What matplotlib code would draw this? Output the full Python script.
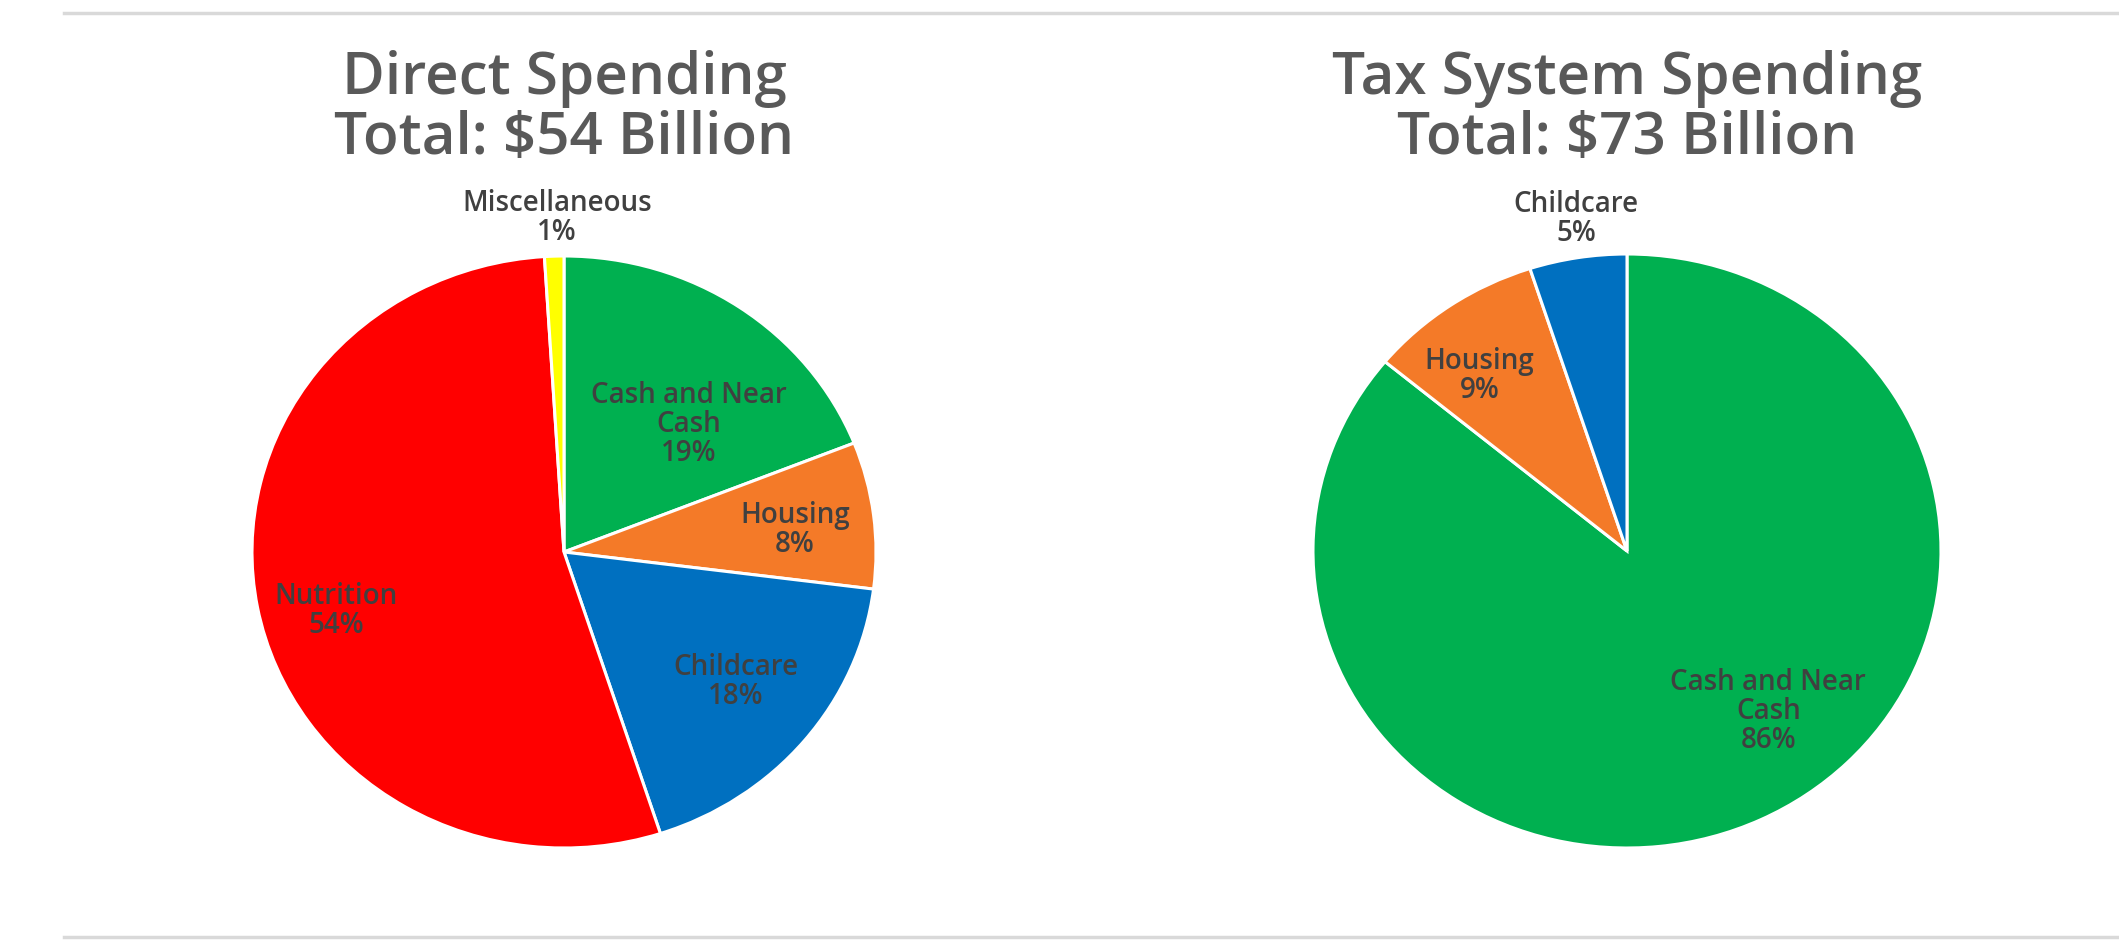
import matplotlib
matplotlib.use("Agg")
import matplotlib.pyplot as plt
from matplotlib.lines import Line2D

plt.rcParams['font.family'] = ['Open Sans', 'DejaVu Sans']

# Direct spending shares (percent), clockwise from 12 o'clock
direct_labels = ["Cash and Near\nCash", "Housing", "Childcare", "Nutrition", "Miscellaneous"]
direct_values = [19, 8, 18, 54, 1]
direct_colors = ["#00B050", "#F47A28", "#0070C0", "#FF0000", "#FFFF00"]
direct_total = 54

# Tax system spending shares (percent), clockwise from 12 o'clock
tax_labels = ["Cash and Near\nCash", "Housing", "Childcare"]
tax_values = [86, 9, 5]
tax_colors = ["#00B050", "#F47A28", "#0070C0"]
tax_total = 73

# label anchor points in pie data units (radius = 1)
direct_label_xy = [(0.40, 0.43), (0.74, 0.075), (0.55, -0.44), (-0.73, -0.20), (-0.022, 1.13)]
tax_label_xy = [(0.45, -0.54), (-0.47, 0.59), (-0.163, 1.118)]

W, H = 2119, 944
fig = plt.figure(figsize=(W / 100, H / 100), dpi=100)
fig.patch.set_facecolor("white")

TITLE_C = "#595959"
LABEL_C = "#404040"


def draw_pie(cx, cy, rx, ry, values, labels, colors, label_xy, title):
    ax = fig.add_axes([(cx - rx) / W, (H - cy - ry) / H, 2 * rx / W, 2 * ry / H])
    ax.pie(values, colors=colors, startangle=90, counterclock=False, radius=1,
           wedgeprops=dict(edgecolor="white", linewidth=2.2))
    ax.set_aspect("auto")
    ax.set_xlim(-1, 1)
    ax.set_ylim(-1, 1)
    ax.axis("off")
    for (lx, ly), lab, v in zip(label_xy, labels, values):
        ax.text(lx, ly, f"{lab}\n{v}%", ha="center", va="center", fontsize=20,
                fontweight="semibold", color=LABEL_C, linespacing=1.0, clip_on=False)
    fig.text(cx / W, 1 - 109 / H, title, ha="center", va="center", fontsize=42,
             fontweight="semibold", color=TITLE_C, linespacing=1.05)


draw_pie(564, 552, 312, 296, direct_values, direct_labels, direct_colors, direct_label_xy,
         f"Direct Spending\nTotal: ${direct_total} Billion")
draw_pie(1627, 551, 314, 297, tax_values, tax_labels, tax_colors, tax_label_xy,
         f"Tax System Spending\nTotal: ${tax_total} Billion")

# thin rules above and below the panel
for y in (13, 937):
    fig.add_artist(Line2D([64 / W, 1.0], [1 - y / H, 1 - y / H], transform=fig.transFigure,
                          color="#D9D9D9", linewidth=2.5))

fig.savefig("out.png", dpi=100, facecolor="white")
